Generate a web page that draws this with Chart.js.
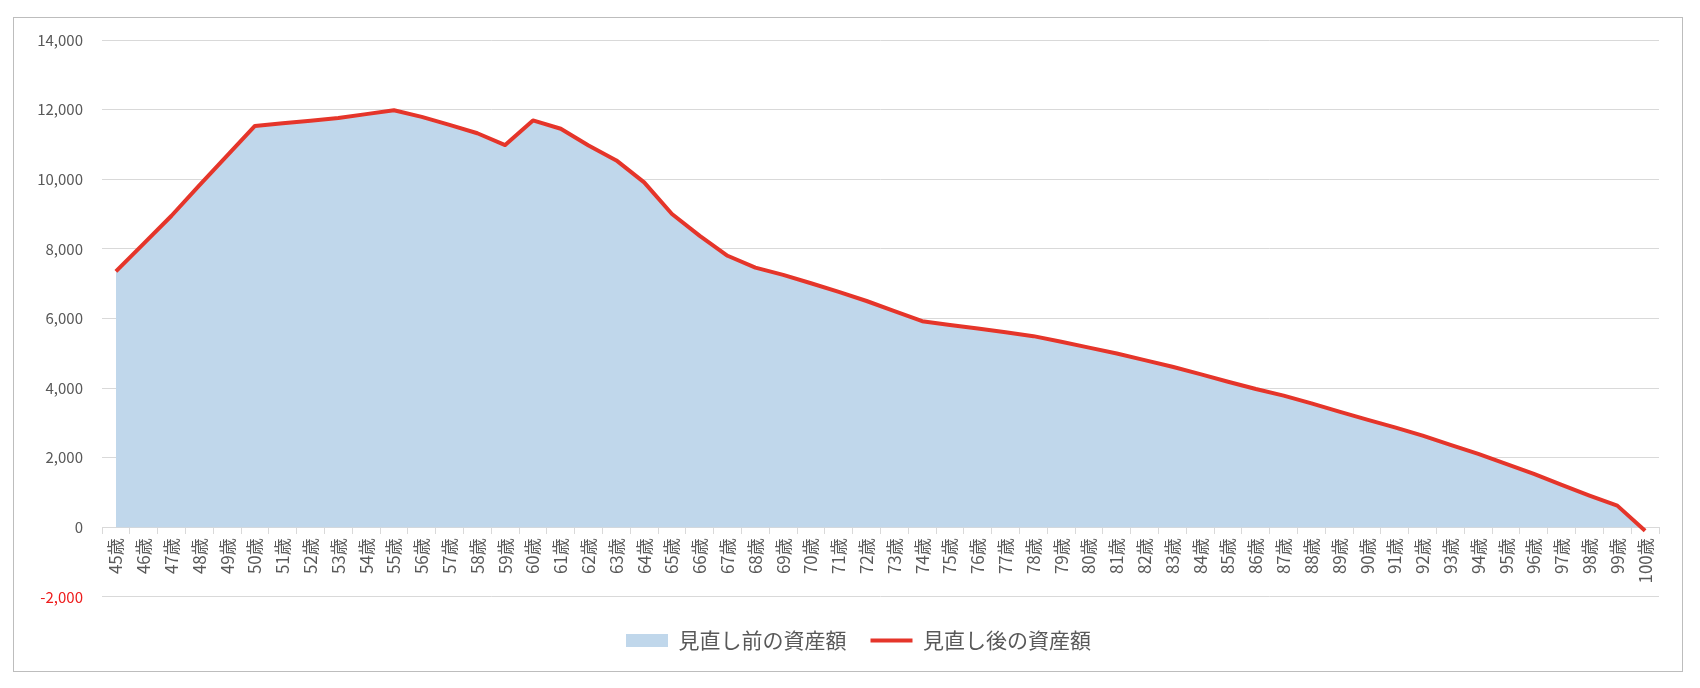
<!DOCTYPE html>
<html lang="ja">
<head>
<meta charset="utf-8">
<title>資産額の推移</title>
<script src="https://cdn.jsdelivr.net/npm/chart.js@4.4.1/dist/chart.umd.min.js"></script>
<style>
  html, body { margin: 0; padding: 0; background: #fff; }
  body { width: 1700px; height: 688px; position: relative; overflow: hidden; }
  .frame {
    position: absolute; left: 13px; top: 17px;
    width: 1668px; height: 653px;
    border: 1px solid #bdbdbd;
  }
</style>
</head>
<body>
<div class="frame">
  <canvas id="assetChart"></canvas>
</div>
<script>
// ages 45..100
const ages = ['45歳','46歳','47歳','48歳','49歳','50歳','51歳','52歳','53歳','54歳',
  '55歳','56歳','57歳','58歳','59歳','60歳','61歳','62歳','63歳','64歳',
  '65歳','66歳','67歳','68歳','69歳','70歳','71歳','72歳','73歳','74歳',
  '75歳','76歳','77歳','78歳','79歳','80歳','81歳','82歳','83歳','84歳',
  '85歳','86歳','87歳','88歳','89歳','90歳','91歳','92歳','93歳','94歳',
  '95歳','96歳','97歳','98歳','99歳','100歳'];

// 見直し前の資産額 (area)
const beforeValues = [7350, 8150, 8950, 9820, 10680, 11530, 11610, 11680, 11760, 11870,
  11980, 11790, 11560, 11320, 10980, 11690, 11450, 10970, 10540, 9910,
  9000, 8370, 7800, 7460, 7250, 7010, 6760, 6500, 6210, 5920,
  5810, 5710, 5600, 5490, 5330, 5160, 4990, 4800, 4610, 4400,
  4180, 3970, 3780, 3560, 3320, 3090, 2870, 2630, 2365, 2105,
  1820, 1530, 1215, 910, 620, -100];

// 見直し後の資産額 (line)
const afterValues = [7350, 8150, 8950, 9820, 10680, 11530, 11610, 11680, 11760, 11870,
  11980, 11790, 11560, 11320, 10980, 11690, 11450, 10970, 10540, 9910,
  9000, 8370, 7800, 7460, 7250, 7010, 6760, 6500, 6210, 5920,
  5810, 5710, 5600, 5490, 5330, 5160, 4990, 4800, 4610, 4400,
  4180, 3970, 3780, 3560, 3320, 3090, 2870, 2630, 2365, 2105,
  1820, 1530, 1215, 910, 620, -100];

const seriesNames = ['見直し前の資産額', '見直し後の資産額'];
const yMin = -2000;
const yMax = 14000;
const yStep = 2000;

const textColor = '#595959';
const gridColor = '#d9d9d9';
const fontFamily = '"Noto Sans CJK JP", "Noto Sans", sans-serif';

// nudge the legend a little to the right, like in the original
const legendShift = {
  id: 'legendShift',
  afterLayout(chart) {
    chart.legend.left += 22;
    chart.legend.right += 22;
  }
};

const chart = new Chart(document.getElementById('assetChart'), {
  type: 'line',
  data: {
    labels: ages,
    datasets: [{
      label: seriesNames[0],
      data: beforeValues,
      backgroundColor: '#c0d7eb',
      borderColor: '#c0d7eb',
      borderWidth: 0,
      fill: 'origin',
      pointRadius: 0,
      pointStyle: 'rect',
      tension: 0,
      order: 2
    }, {
      label: seriesNames[1],
      data: afterValues,
      borderColor: '#e5352a',
      backgroundColor: '#e5352a',
      borderWidth: 4,
      fill: false,
      pointRadius: 0,
      pointStyle: 'line',
      borderJoinStyle: 'round',
      tension: 0,
      order: 1
    }]
  },
  plugins: [legendShift],
  options: {
    responsive: true,
    maintainAspectRatio: false,
    devicePixelRatio: 1,
    animation: false,
    layout: { padding: { top: 22, right: 23, bottom: 10, left: 0 } },
    plugins: {
      tooltip: { enabled: false },
      legend: {
        position: 'bottom',
        // empty title only used as a spacer above the legend row
        title: { display: true, text: ' ', font: { size: 1 }, padding: { top: 8, bottom: 0 } },
        labels: {
          usePointStyle: true,
          pointStyleWidth: 42,
          boxHeight: 13,
          padding: 24,
          color: textColor,
          font: { family: fontFamily, size: 21 },
          generateLabels: (c) => c.data.datasets.map((ds, i) => ({
            text: ds.label,
            fillStyle: ds.backgroundColor,
            strokeStyle: ds.borderColor,
            lineWidth: ds.borderWidth,
            pointStyle: ds.pointStyle,
            fontColor: textColor,
            hidden: false,
            datasetIndex: i
          }))
        }
      }
    },
    scales: {
      x: {
        type: 'category',
        offset: true,
        position: { y: 0 },
        grid: {
          display: true,
          drawOnChartArea: false,
          drawTicks: true,
          tickLength: 6,
          offset: true,
          color: gridColor
        },
        border: { display: true, color: gridColor },
        ticks: {
          autoSkip: false,
          minRotation: 90,
          maxRotation: 90,
          padding: 5,
          color: textColor,
          font: { family: fontFamily, size: 17 }
        }
      },
      y: {
        min: yMin,
        max: yMax,
        afterFit: (scale) => {
          scale.width = 88;
          // tick padding should not push the plot down
          scale.paddingTop = 9;
          scale.paddingBottom = 9;
        },
        grid: { color: gridColor, drawTicks: false },
        border: { display: false },
        ticks: {
          stepSize: yStep,
          padding: 19,
          color: (ctx) => ctx.tick && ctx.tick.value < 0 ? '#ee1c1c' : textColor,
          font: { family: fontFamily, size: 15 },
          callback: (v) => v.toLocaleString('en-US')
        }
      }
    }
  }
});
</script>
</body>
</html>
